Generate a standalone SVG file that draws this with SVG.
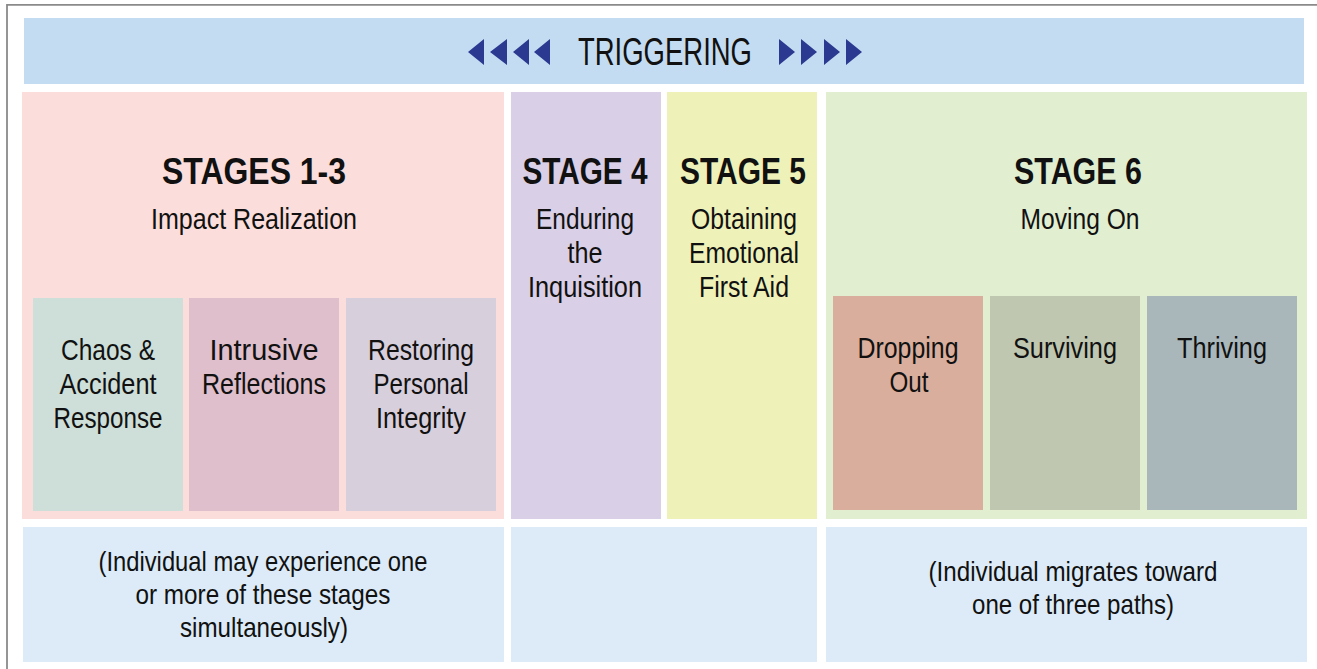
<svg xmlns="http://www.w3.org/2000/svg" width="1317" height="669" viewBox="0 0 1317 669">
<style>
text{font-family:"Liberation Sans",Arial,sans-serif;fill:#111;text-anchor:middle}
.t{font-size:29px}
.b{font-size:28px}
.h{font-size:37px;font-weight:bold}
.trig{font-size:39px}
.arr{fill:#2b3990}
</style>
<rect x="0" y="0" width="1317" height="669" fill="#fff"/>
<path d="M7 669 V4.8 H1317" fill="none" stroke="#8a8a8a" stroke-width="1.8"/>
<g id="triggering">
<rect x="24" y="18" width="1280" height="66" fill="#c4dcf1"/>
<text class="trig" x="665" y="65" textLength="174" lengthAdjust="spacingAndGlyphs">TRIGGERING</text>
<path class="arr" d="M468 52 L484 39 L484 65 Z M490 52 L507 39 L507 65 Z M513 52 L529 39 L529 65 Z M534 52 L550 39 L550 65 Z"/>
<path class="arr" d="M795 52 L779 39 L779 65 Z M817 52 L801 39 L801 65 Z M840 52 L824 39 L824 65 Z M862 52 L846 39 L846 65 Z"/>
</g>
<g id="stages13">
<rect x="22" y="92" width="482" height="427" fill="#fbdedb"/>
<text class="h" x="254" y="184" textLength="184" lengthAdjust="spacingAndGlyphs">STAGES 1-3</text>
<text class="t" x="254" y="229" textLength="206" lengthAdjust="spacingAndGlyphs">Impact Realization</text>
</g>
<g id="chaos">
<rect x="33" y="298" width="150" height="213" fill="#cddfd8"/>
<text class="t" x="108" y="360" textLength="94" lengthAdjust="spacingAndGlyphs">Chaos &amp;</text>
<text class="t" x="108" y="394" textLength="97" lengthAdjust="spacingAndGlyphs">Accident</text>
<text class="t" x="108" y="428" textLength="109" lengthAdjust="spacingAndGlyphs">Response</text>
</g>
<g id="intrusive">
<rect x="189" y="298" width="150" height="213" fill="#dfbfcb"/>
<text class="t" x="264" y="360" textLength="109" lengthAdjust="spacingAndGlyphs">Intrusive</text>
<text class="t" x="264" y="394" textLength="124" lengthAdjust="spacingAndGlyphs">Reflections</text>
</g>
<g id="restoring">
<rect x="346" y="298" width="150" height="213" fill="#d8cfdc"/>
<text class="t" x="421" y="360" textLength="106" lengthAdjust="spacingAndGlyphs">Restoring</text>
<text class="t" x="421" y="394" textLength="95" lengthAdjust="spacingAndGlyphs">Personal</text>
<text class="t" x="421" y="428" textLength="90" lengthAdjust="spacingAndGlyphs">Integrity</text>
</g>
<g id="stage4">
<rect x="511" y="92" width="150" height="427" fill="#d9cfe6"/>
<text class="h" x="585" y="184" textLength="125" lengthAdjust="spacingAndGlyphs">STAGE 4</text>
<text class="t" x="585" y="229" textLength="98" lengthAdjust="spacingAndGlyphs">Enduring</text>
<text class="t" x="585" y="263" textLength="35" lengthAdjust="spacingAndGlyphs">the</text>
<text class="t" x="585" y="297" textLength="114" lengthAdjust="spacingAndGlyphs">Inquisition</text>
</g>
<g id="stage5">
<rect x="667" y="92" width="150" height="427" fill="#eef2b8"/>
<text class="h" x="743" y="184" textLength="126" lengthAdjust="spacingAndGlyphs">STAGE 5</text>
<text class="t" x="744" y="229" textLength="106" lengthAdjust="spacingAndGlyphs">Obtaining</text>
<text class="t" x="744" y="263" textLength="110" lengthAdjust="spacingAndGlyphs">Emotional</text>
<text class="t" x="744" y="297" textLength="90" lengthAdjust="spacingAndGlyphs">First Aid</text>
</g>
<g id="stage6">
<rect x="826" y="92" width="481" height="427" fill="#e1eecf"/>
<text class="h" x="1078" y="184" textLength="128" lengthAdjust="spacingAndGlyphs">STAGE 6</text>
<text class="t" x="1080" y="229" textLength="119" lengthAdjust="spacingAndGlyphs">Moving On</text>
</g>
<g id="dropping">
<rect x="833" y="296" width="150" height="214" fill="#d9ae9c"/>
<text class="t" x="908" y="358" textLength="101" lengthAdjust="spacingAndGlyphs">Dropping</text>
<text class="t" x="909" y="392" textLength="39" lengthAdjust="spacingAndGlyphs">Out</text>
</g>
<g id="surviving">
<rect x="990" y="296" width="150" height="214" fill="#bfc7b0"/>
<text class="t" x="1065" y="358" textLength="104" lengthAdjust="spacingAndGlyphs">Surviving</text>
</g>
<g id="thriving">
<rect x="1147" y="296" width="150" height="214" fill="#a9b7bb"/>
<text class="t" x="1222" y="358" textLength="90" lengthAdjust="spacingAndGlyphs">Thriving</text>
</g>
<g id="note-left">
<rect x="23" y="527" width="481" height="135" fill="#dcebf7"/>
<text class="b" x="263" y="571" textLength="329" lengthAdjust="spacingAndGlyphs">(Individual may experience one</text>
<text class="b" x="263" y="604" textLength="255" lengthAdjust="spacingAndGlyphs">or more of these stages</text>
<text class="b" x="264" y="637" textLength="168" lengthAdjust="spacingAndGlyphs">simultaneously)</text>
</g>
<g id="note-middle">
<rect x="511" y="527" width="306" height="135" fill="#dcebf7"/>
</g>
<g id="note-right">
<rect x="826" y="527" width="481" height="135" fill="#dcebf7"/>
<text class="b" x="1073" y="581" textLength="289" lengthAdjust="spacingAndGlyphs">(Individual migrates toward</text>
<text class="b" x="1073" y="614" textLength="202" lengthAdjust="spacingAndGlyphs">one of three paths)</text>
</g>
<g id="connectors"></g>
</svg>
